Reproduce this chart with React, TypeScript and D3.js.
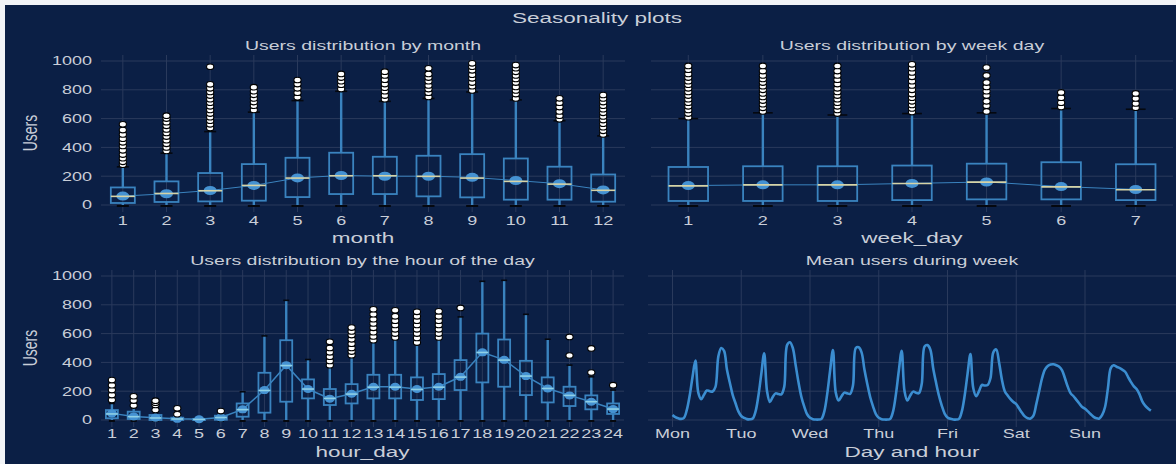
import React from "react";
import * as d3 from "d3";

// ---------------- DATA ----------------
const months = ["1", "2", "3", "4", "5", "6", "7", "8", "9", "10", "11", "12"];
const monthQ1 = [14, 21, 25, 30, 55, 76, 76, 60, 53, 37, 37, 23];
const monthQ3 = [122, 164, 222, 284, 328, 363, 335, 342, 353, 323, 266, 212];
const monthMedian = [60, 80, 99, 136, 187, 203, 203, 199, 187, 164, 145, 102];
const monthMean = [62, 78, 101, 136, 188, 205, 200, 200, 192, 170, 148, 105];
const monthWhiskerLow = [0, 0, 0, 0, 0, 0, 0, 0, 0, 0, 0, 0];
const monthWhiskerHigh = [265, 360, 510, 645, 725, 790, 720, 740, 785, 730, 585, 480];
const monthOutliers = [
  [280, 300, 325, 350, 380, 410, 435, 460, 490, 520, 560],
  [375, 400, 425, 450, 475, 500, 525, 550, 575, 600, 620],
  [535, 560, 585, 610, 635, 660, 685, 710, 735, 760, 785, 810, 838, 960],
  [660, 690, 715, 740, 765, 790, 818],
  [748, 780, 810, 840, 868],
  [805, 835, 860, 885, 910],
  [735, 760, 790, 815, 840, 870, 900, 926],
  [750, 780, 805, 830, 860, 885, 910, 949],
  [795, 825, 850, 880, 905, 935, 960, 984],
  [740, 770, 795, 820, 850, 875, 900, 925, 950, 972],
  [595, 620, 650, 680, 710, 741],
  [490, 515, 540, 565, 590, 615, 640, 665, 690, 715, 740, 764],
];

const weekDays = ["1", "2", "3", "4", "5", "6", "7"];
const dayQ1 = [28, 28, 28, 34, 39, 39, 34];
const dayQ3 = [264, 269, 269, 274, 287, 297, 283];
const dayMedian = [133, 140, 140, 149, 159, 126, 106];
const dayMean = [135, 140, 140, 150, 160, 128, 108];
const dayWhiskerLow = [0, 0, 0, 0, 0, 0, 0];
const dayWhiskerHigh = [600, 640, 625, 635, 640, 670, 665];
const dayOutliers = [
  [610, 635, 660, 685, 710, 735, 760, 785, 810, 835, 860, 885, 910, 940, 966],
  [650, 675, 700, 725, 750, 775, 800, 825, 850, 875, 900, 930, 966],
  [635, 660, 685, 710, 735, 760, 785, 810, 840, 870, 900, 930, 966],
  [645, 670, 695, 720, 745, 770, 800, 830, 860, 890, 920, 950, 977],
  [650, 690, 720, 760, 790, 820, 850, 900, 954],
  [680, 710, 745, 782],
  [676, 705, 740, 775],
];

const hours = ["1", "2", "3", "4", "5", "6", "7", "8", "9", "10", "11", "12",
  "13", "14", "15", "16", "17", "18", "19", "20", "21", "22", "23", "24"];
const hourQ1 = [12, 7, 0, 0, 0, 2, 23, 51, 127, 150, 104, 115, 150, 150, 139, 145, 208, 261, 231, 173, 122, 97, 74, 42];
const hourQ3 = [69, 58, 35, 16, 8, 30, 115, 328, 554, 282, 215, 249, 314, 314, 296, 319, 416, 600, 559, 411, 296, 231, 171, 115];
const hourMedian = [42, 23, 14, 7, 4, 17, 72, 205, 378, 215, 150, 180, 228, 228, 212, 228, 298, 469, 416, 305, 219, 171, 127, 76];
const hourMean = [46, 25, 16, 8, 5, 18, 74, 208, 381, 215, 148, 182, 231, 231, 215, 231, 300, 470, 418, 305, 219, 171, 127, 76];
const hourWhiskerLow = [0, 0, 0, 0, 0, 0, 0, 0, 0, 0, 0, 0, 0, 0, 0, 0, 0, 0, 0, 0, 0, 0, 0, 0];
const hourWhiskerHigh = [115, 92, 60, 35, 15, 50, 196, 584, 831, 420, 375, 440, 545, 565, 530, 565, 716, 963, 970, 734, 561, 381, 300, 208];
const hourOutliers = [
  [139, 173, 208, 242, 277],
  [100, 135, 165],
  [69, 104, 120, 134],
  [40, 81],
  [],
  [62],
  [], [], [], [],
  [381, 410, 440, 470, 500, 543],
  [450, 475, 500, 530, 560, 590, 615, 642],
  [554, 580, 610, 640, 670, 700, 735, 769],
  [573, 600, 630, 660, 690, 720, 762],
  [538, 570, 600, 630, 660, 690, 720, 751],
  [573, 600, 630, 660, 690, 720, 755],
  [778],
  [], [], [], [],
  [448, 577],
  [330, 497],
  [242],
];

const dayLabels = ["Mon", "Tuo", "Wed", "Thu", "Fri", "Sat", "Sun"];
const meanMon = [35, 20, 12, 8, 15, 70, 170, 300, 412, 190, 145, 175, 205, 200, 198, 230, 440, 500, 480, 350, 260, 175, 116, 60];
const meanTue = [28, 15, 6, 5, 10, 60, 170, 320, 463, 200, 125, 160, 185, 180, 178, 230, 520, 540, 500, 380, 260, 160, 93, 40];
const meanWed = [15, 6, 3, 3, 8, 60, 180, 340, 486, 190, 135, 165, 190, 185, 182, 240, 500, 505, 470, 350, 250, 160, 95, 40];
const meanThu = [15, 6, 3, 3, 8, 60, 180, 340, 481, 200, 135, 170, 197, 190, 186, 250, 510, 520, 490, 360, 260, 170, 100, 45];
const meanFri = [18, 8, 4, 3, 8, 60, 170, 320, 458, 220, 165, 200, 243, 240, 243, 290, 470, 490, 400, 280, 200, 170, 145, 125];
const meanSat = [110, 80, 50, 25, 12, 10, 30, 110, 200, 290, 350, 375, 385, 387, 380, 370, 345, 290, 230, 185, 165, 140, 115, 90];
const meanSun = [78, 60, 40, 22, 12, 10, 35, 90, 220, 360, 380, 370, 362, 350, 335, 300, 265, 235, 215, 180, 130, 100, 80, 65];

const yTicks = [0, 200, 400, 600, 800, 1000];

// ---------------- STYLE ----------------
const SX = 1.5;
const FONT = '"Liberation Sans", Arial, sans-serif';
const BG = "#0b1f45";
const GRID = "#2a3a5c";
const BLUE = "#3a83bf";
const DOT = "#4592d2";
const TXT = "#c9ced8";

type TProps = { x: number; y: number; size: number; anchor?: string; fill?: string; rotate?: boolean; children: React.ReactNode };
function T({ x, y, size, anchor = "middle", fill = TXT, rotate = false, children }: TProps) {
  const tr = `translate(${x},${y}) scale(${SX},1)` + (rotate ? " rotate(-90)" : "");
  return (
    <text transform={tr} fontSize={size} textAnchor={anchor as any} fill={fill} fontFamily={FONT}>
      {children}
    </text>
  );
}

type BoxProps = {
  cats: string[]; q1: number[]; q3: number[]; med: number[]; mean: number[];
  wlo: number[]; whi: number[]; outl: number[][];
  x0: number; x1: number; yTop: number; yBot: number; y: d3.ScaleLinear<number, number>;
  frac: number; rx: number; ry: number; medColor: string; lineW: number; tickY: number;
  showY: boolean; title: string; xTitle: string; titleY: number; xTitleY: number;
};

function BoxPanel(p: BoxProps) {
  const xs = d3.scalePoint<string>().domain(p.cats).range([p.x0, p.x1]).padding(0.5);
  const step = xs.step();
  const bw = step * p.frac;
  const cx = (p.x0 + p.x1) / 2;
  const meanLine = d3.line<number>().x((_, i) => xs(p.cats[i]) as number).y((v) => p.y(v));
  return (
    <g>
      {yTicks.map((t) => (
        <line key={"h" + t} x1={p.x0} x2={p.x1} y1={p.y(t)} y2={p.y(t)} stroke={GRID} strokeWidth={1} />
      ))}
      {p.cats.map((c) => (
        <line key={"v" + c} x1={xs(c)} x2={xs(c)} y1={p.yTop} y2={p.yBot} stroke={GRID} strokeWidth={1} />
      ))}
      {p.cats.map((c, i) => {
        const x = xs(c) as number;
        return (
          <g key={"b" + c}>
            <line x1={x} x2={x} y1={p.y(p.q3[i])} y2={p.y(p.whi[i])} stroke={BLUE} strokeWidth={2.4} />
            <line x1={x} x2={x} y1={p.y(p.q1[i])} y2={p.y(p.wlo[i])} stroke={BLUE} strokeWidth={2.4} />
            <line x1={x - bw * 0.25} x2={x + bw * 0.25} y1={p.y(p.whi[i])} y2={p.y(p.whi[i])} stroke="#05080f" strokeWidth={1.6} />
            <line x1={x - bw * 0.25} x2={x + bw * 0.25} y1={p.y(p.wlo[i]) + 1} y2={p.y(p.wlo[i]) + 1} stroke="#05080f" strokeWidth={2} />
            <rect x={x - bw / 2} y={p.y(p.q3[i])} width={bw} height={Math.max(1, p.y(p.q1[i]) - p.y(p.q3[i]))}
              fill="none" stroke={BLUE} strokeWidth={1.8} />
          </g>
        );
      })}
      <path d={meanLine(p.mean) || ""} fill="none" stroke={BLUE} strokeWidth={p.lineW} />
      {p.cats.map((c, i) => (
        <ellipse key={"m" + c} cx={xs(c)} cy={p.y(p.mean[i])} rx={p.rx} ry={p.ry} fill={DOT} />
      ))}
      {p.cats.map((c, i) => {
        const x = xs(c) as number;
        return (
          <line key={"md" + c} x1={x - bw / 2} x2={x + bw / 2} y1={p.y(p.med[i])} y2={p.y(p.med[i])}
            stroke={p.medColor} strokeWidth={1.6} />
        );
      })}
      {p.cats.map((c, i) =>
        p.outl[i].map((v, j) => (
          <ellipse key={"o" + c + "_" + j} cx={xs(c)} cy={p.y(v)} rx={3.6} ry={2.8} fill="#ffffff" stroke="#000" strokeWidth={1.1} />
        ))
      )}
      {p.cats.map((c) => (
        <T key={"xl" + c} x={xs(c) as number} y={p.tickY} size={12}>{c}</T>
      ))}
      {p.showY &&
        yTicks.map((t) => (
          <T key={"yl" + t} x={92} y={p.y(t) + 4.3} size={12} anchor="end">{String(t)}</T>
        ))}
      {p.showY && (
        <T x={37} y={(p.y(0) + p.y(1000)) / 2} size={14} rotate>Users</T>
      )}
      <T x={cx} y={p.titleY} size={13}>{p.title}</T>
      <T x={cx} y={p.xTitleY} size={15}>{p.xTitle}</T>
    </g>
  );
}

export default function App() {
  const yTopS = d3.scaleLinear().domain([0, 1000]).range([205, 61]);
  const yBotS = d3.scaleLinear().domain([0, 1000]).range([420, 276]);

  const weekMeans = [...meanMon, ...meanTue, ...meanWed, ...meanThu, ...meanFri, ...meanSat, ...meanSun];
  const xw = d3.scaleLinear().domain([0, 144]).range([672.5, 1085]);
  const wline = d3.line<number>().x((_, i) => xw(i)).y((v) => yBotS(v)).curve(d3.curveCatmullRom.alpha(0.5));

  return (
    <div style={{ position: "fixed", left: 0, top: 0, width: 1176, height: 464 }}>
      <svg width={1176} height={464} style={{ display: "block" }}>
        <rect x={0} y={0} width={1176} height={464} fill="#f2f4f7" />
        <rect x={5} y={5} width={1171} height={459} fill={BG} />
        <T x={597} y={23} size={15}>Seasonality plots</T>

        <BoxPanel cats={months} q1={monthQ1} q3={monthQ3} med={monthMedian} mean={monthMean}
          wlo={monthWhiskerLow} whi={monthWhiskerHigh} outl={monthOutliers}
          x0={101} x1={625} yTop={55} yBot={212} y={yTopS} frac={0.55} rx={6.5} ry={4.5}
          medColor="#d6d3a6" lineW={1} tickY={225} showY={true}
          title="Users distribution by month" xTitle="month" titleY={50} xTitleY={243} />

        <BoxPanel cats={weekDays} q1={dayQ1} q3={dayQ3} med={dayMedian} mean={dayMean}
          wlo={dayWhiskerLow} whi={dayWhiskerHigh} outl={dayOutliers}
          x0={651} x1={1173} yTop={55} yBot={212} y={yTopS} frac={0.53} rx={6.5} ry={4.5}
          medColor="#d6d3a6" lineW={1} tickY={225} showY={false}
          title="Users distribution by week day" xTitle="week_day" titleY={50} xTitleY={243} />

        <BoxPanel cats={hours} q1={hourQ1} q3={hourQ3} med={hourMedian} mean={hourMean}
          wlo={hourWhiskerLow} whi={hourWhiskerHigh} outl={hourOutliers}
          x0={101} x1={624} yTop={270} yBot={427} y={yBotS} frac={0.55} rx={5} ry={4}
          medColor="#8fd0e6" lineW={1.5} tickY={438} showY={true}
          title="Users distribution by the hour of the day" xTitle="hour_day" titleY={265} xTitleY={457} />

        {/* Mean users during week */}
        <g>
          {yTicks.map((t) => (
            <line key={"wh" + t} x1={648} x2={1176} y1={yBotS(t)} y2={yBotS(t)} stroke={GRID} strokeWidth={1} />
          ))}
          {dayLabels.map((d, i) => (
            <line key={"wv" + d} x1={xw(i * 24)} x2={xw(i * 24)} y1={270} y2={427} stroke={GRID} strokeWidth={1} />
          ))}
          <path d={wline(weekMeans) || ""} fill="none" stroke="#3b8dd0" strokeWidth={2.6} strokeLinejoin="round" />
          {dayLabels.map((d, i) => (
            <T key={"wl" + d} x={xw(i * 24)} y={438} size={12}>{d}</T>
          ))}
          <T x={912} y={265} size={13}>Mean users during week</T>
          <T x={912} y={457} size={15}>Day and hour</T>
        </g>
      </svg>
    </div>
  );
}
